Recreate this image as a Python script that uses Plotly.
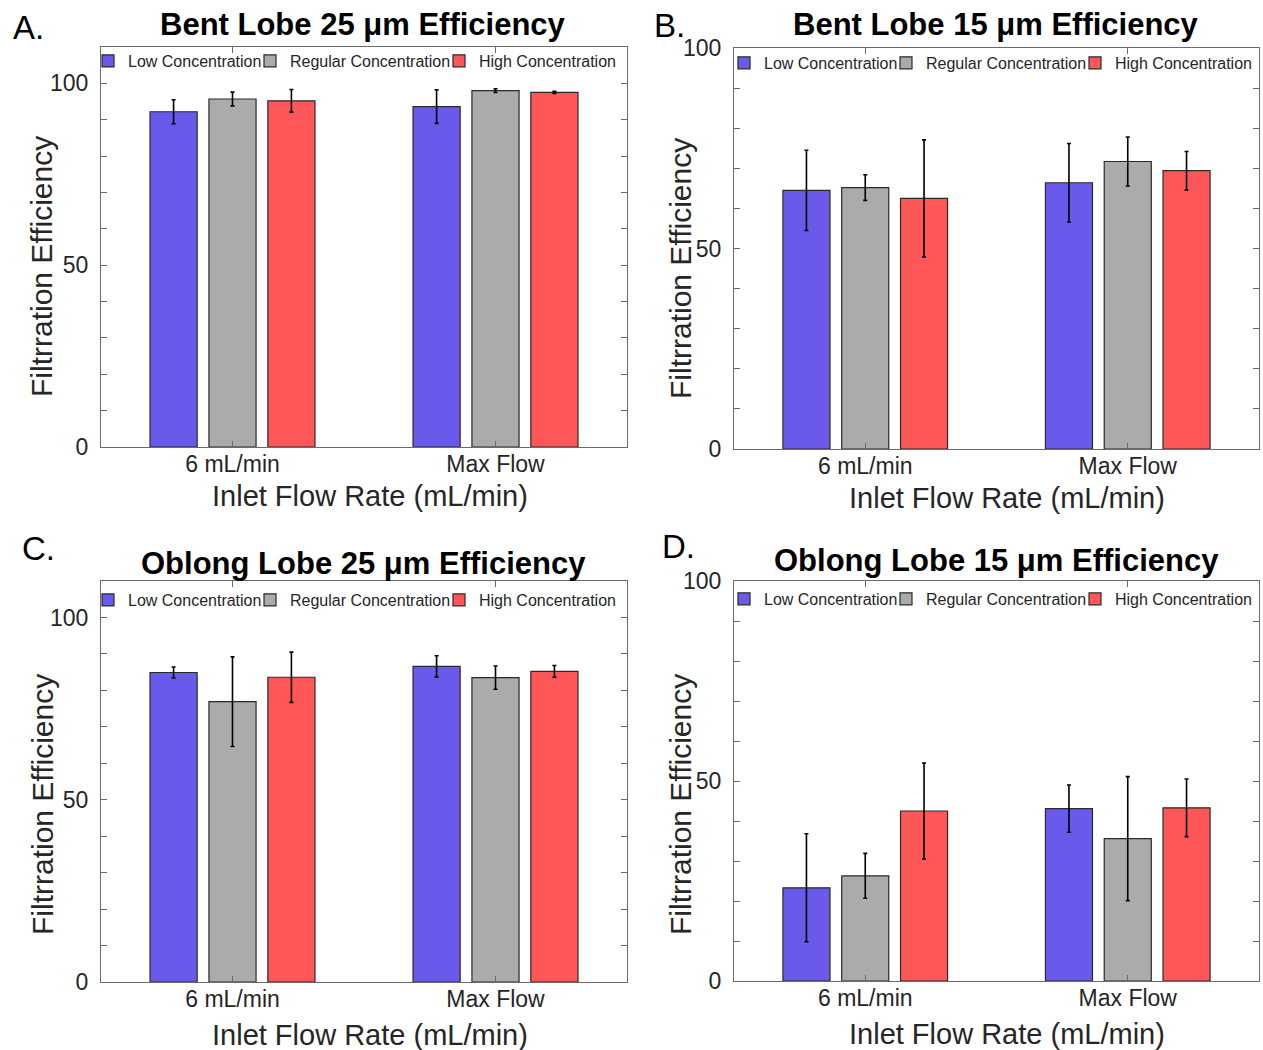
import plotly.graph_objects as go

# ---------------- data ----------------
categories = ["6 mL/min", "Max Flow"]
series_names = ["Low Concentration", "Regular Concentration", "High Concentration"]
series_colors = ["#6A5AEC", "#ABABAB", "#FF5757"]

bent25_low = [92.2, 93.6]
bent25_low_err = [3.3, 4.6]
bent25_reg = [95.7, 98.0]
bent25_reg_err = [1.9, 0.5]
bent25_high = [95.2, 97.5]
bent25_high_err = [3.1, 0.3]

bent15_low = [64.5, 66.4]
bent15_low_err = [10.0, 9.8]
bent15_reg = [65.2, 71.7]
bent15_reg_err = [3.2, 6.1]
bent15_high = [62.5, 69.4]
bent15_high_err = [14.6, 4.8]

oblong25_low = [84.9, 86.6]
oblong25_low_err = [1.5, 2.9]
oblong25_reg = [76.9, 83.5]
oblong25_reg_err = [12.3, 3.2]
oblong25_high = [83.6, 85.2]
oblong25_high_err = [6.9, 1.6]

oblong15_low = [23.3, 43.1]
oblong15_low_err = [13.5, 5.9]
oblong15_reg = [26.3, 35.6]
oblong15_reg_err = [5.6, 15.5]
oblong15_high = [42.5, 43.3]
oblong15_high_err = [12.0, 7.2]

panel_titles = ["Bent Lobe 25 μm Efficiency", "Bent Lobe 15 μm Efficiency",
                "Oblong Lobe 25 μm Efficiency", "Oblong Lobe 15 μm Efficiency"]
panel_letters = ["A.", "B.", "C.", "D."]
panel_ymax = [110, 100, 110, 100]
panel_series = [
    [(bent25_low, bent25_low_err), (bent25_reg, bent25_reg_err), (bent25_high, bent25_high_err)],
    [(bent15_low, bent15_low_err), (bent15_reg, bent15_reg_err), (bent15_high, bent15_high_err)],
    [(oblong25_low, oblong25_low_err), (oblong25_reg, oblong25_reg_err), (oblong25_high, oblong25_high_err)],
    [(oblong15_low, oblong15_low_err), (oblong15_reg, oblong15_reg_err), (oblong15_high, oblong15_high_err)],
]
y_title = "Filtrration Efficiency"
x_title = "Inlet Flow Rate (mL/min)"

# ---------------- layout geometry (pixels) ----------------
W, H = 1263, 1050
FONT = "Liberation Sans, Arial, sans-serif"
TXT = "#262626"
AX = "#6b6b6b"

# axes boxes: left, right, top, bottom
boxes = [(101, 627, 47, 447), (734, 1259, 48, 449), (101, 627, 581, 982), (734, 1259, 581, 981)]
title_pos = [(363, 24), (996, 24), (363, 563), (996, 560)]
letter_pos = [(28, 28), (669, 25), (38, 548), (678, 546)]
ytitle_pos = [(42, 267), (680, 269), (42, 805), (680, 805)]
xtitle_pos = [(370, 496), (1007, 498), (370, 1035), (1007, 1034)]
legend_pos = [(88, 61), (724, 63), (88, 600), (724, 599)]
legend_entry_w = [117, 144, None]


def fx(x):
    return x / W


def fy(y):
    return 1 - y / H


fig = go.Figure()
annotations = []
layout = dict(
    template="none",
    width=W, height=H, margin=dict(l=0, r=0, t=0, b=0, autoexpand=False),
    paper_bgcolor="white", plot_bgcolor="white",
    barmode="group", bargap=0.328, bargroupgap=0.2,
    font=dict(family=FONT, color=TXT),
)

for i in range(4):
    sfx = "" if i == 0 else str(i + 1)
    xa, ya = "x" + sfx, "y" + sfx
    leg = "legend" + sfx
    for (vals, errs), name, col, lw in zip(panel_series[i], series_names, series_colors, legend_entry_w):
        kw = {}
        if lw is not None:
            kw["legendwidth"] = lw
        fig.add_trace(go.Bar(
            x=categories, y=vals, name=name, xaxis=xa, yaxis=ya, legend=leg,
            marker=dict(color=col, line=dict(color="#2a2a2a", width=1.2)),
            error_y=dict(type="data", array=errs, color="black", thickness=1.6, width=2),
            **kw,
        ))
    l, r, t, b = boxes[i]
    ymax = panel_ymax[i]
    tickvals = list(range(0, ymax + 1, 10))
    ticktext = [str(v) if v % 50 == 0 else "" for v in tickvals]
    layout["xaxis" + sfx] = dict(
        domain=[fx(l), fx(r)], anchor=ya, type="category", range=[-0.5, 1.5],
        showline=True, linecolor=AX, linewidth=1.3, mirror="ticks",
        ticks="inside", ticklen=6, tickcolor=AX, tickwidth=1.2,
        showgrid=False, zeroline=False, automargin=False,
        tickfont=dict(family=FONT, size=23, color=TXT), ticklabelstandoff=-4,
    )
    layout["yaxis" + sfx] = dict(
        domain=[fy(b), fy(t)], anchor=xa, range=[0, ymax],
        tickvals=tickvals, ticktext=ticktext,
        showline=True, linecolor=AX, linewidth=1.3, mirror="ticks",
        ticks="inside", ticklen=6, tickcolor=AX, tickwidth=1.2,
        showgrid=False, zeroline=False, automargin=False,
        tickfont=dict(family=FONT, size=23, color=TXT), ticklabelstandoff=7,
    )
    lx, ly = legend_pos[i]
    layout[leg] = dict(
        orientation="h", x=fx(lx), y=fy(ly), xanchor="left", yanchor="middle",
        xref="paper", yref="paper",
        font=dict(family=FONT, size=16, color=TXT), bgcolor="rgba(0,0,0,0)",
        itemwidth=30, tracegroupgap=0, borderwidth=0,
    )
    tx, ty = title_pos[i]
    annotations.append(dict(text="<b>" + panel_titles[i] + "</b>", x=fx(tx), y=fy(ty),
                            xref="paper", yref="paper", showarrow=False,
                            xanchor="center", yanchor="middle",
                            font=dict(family=FONT, size=31, color="black")))
    px_, py_ = letter_pos[i]
    annotations.append(dict(text=panel_letters[i], x=fx(px_), y=fy(py_),
                            xref="paper", yref="paper", showarrow=False,
                            xanchor="center", yanchor="middle",
                            font=dict(family=FONT, size=33, color="black")))
    yx, yy = ytitle_pos[i]
    annotations.append(dict(text=y_title, x=fx(yx), y=fy(yy), textangle=-90,
                            xref="paper", yref="paper", showarrow=False,
                            xanchor="center", yanchor="middle",
                            font=dict(family=FONT, size=30, color=TXT)))
    xx, xy = xtitle_pos[i]
    annotations.append(dict(text=x_title, x=fx(xx), y=fy(xy),
                            xref="paper", yref="paper", showarrow=False,
                            xanchor="center", yanchor="middle",
                            font=dict(family=FONT, size=29, color=TXT)))

layout["annotations"] = annotations
fig.update_layout(**layout)
fig.write_html("out.html")
